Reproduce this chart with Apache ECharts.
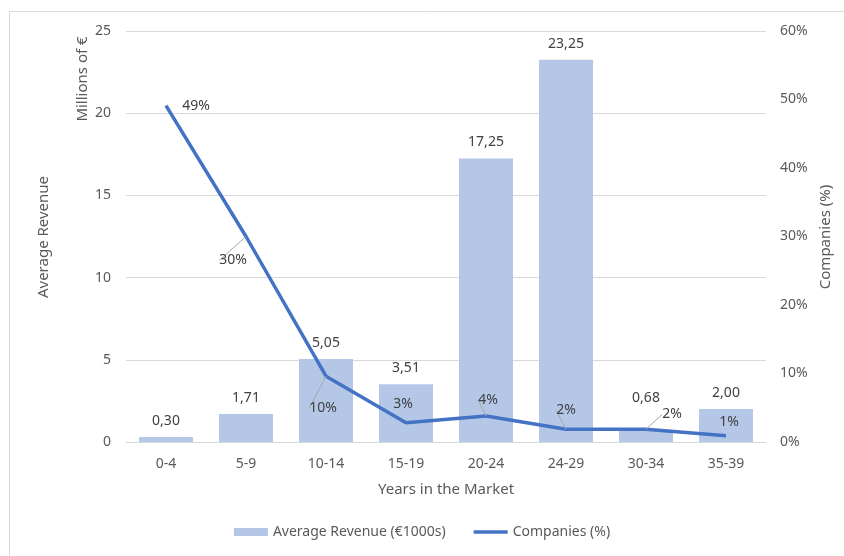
<!DOCTYPE html>
<html>
<head>
<meta charset="utf-8">
<script src="https://cdn.jsdelivr.net/npm/echarts@6/dist/echarts.min.js"></script>
<style>
  html, body { margin: 0; padding: 0; background: #fff; }
  #main { width: 844px; height: 556px; }
</style>
</head>
<body>
<div id="main"></div>
<script>
var categories = ['0-4', '5-9', '10-14', '15-19', '20-24', '24-29', '30-34', '35-39'];
var revenue = [0.30, 1.71, 5.05, 3.51, 17.25, 23.25, 0.68, 2.00];
var companies = [49.1, 30, 9.6, 2.8, 3.8, 1.85, 1.85, 0.9];
// where Excel moved each percentage label (relative to the point), and whether it drew a leader
var labelShift = [[30, 0], [-13, 24], [-3, 32], [-3, -19], [2, -16], [0, -19], [26, -15], [3, -14]];
var leader = [false, true, true, false, true, true, true, false];
// the 0,68 bar label was lifted up by hand
var barLabelLift = [0, 0, 0, 0, 0, 0, -17, 0];

var chart = echarts.init(document.getElementById('main'));
var font = 'Noto Sans';
var grey = '#595959';

var lineData = companies.map(function (v, i) {
    return { value: v, labelLine: { show: leader[i] } };
});

option = {
    animation: false,
    textStyle: { fontFamily: font },
    grid: { left: 126, right: 78, top: 31, bottom: 114 },
    legend: {
        bottom: 12,
        left: 'center',
        itemGap: 28,
        itemWidth: 34,
        itemHeight: 8,
        textStyle: { fontFamily: font, fontSize: 14, color: grey },
        data: [
            { name: 'Average Revenue (€1000s)', icon: 'rect' },
            { name: 'Companies (%)', icon: 'path://M0,0H34V3.5H0Z' }
        ]
    },
    graphic: [
        { type: 'line', shape: { x1: 9.5, y1: 11.5, x2: 844, y2: 11.5 }, style: { stroke: '#D9D9D9', lineWidth: 1 } },
        { type: 'line', shape: { x1: 9.5, y1: 11.5, x2: 9.5, y2: 556 }, style: { stroke: '#D9D9D9', lineWidth: 1 } },
        { type: 'text', x: 44, y: 237, rotation: Math.PI / 2, style: { text: 'Average Revenue', font: '15px "Noto Sans"', fill: grey, align: 'center', verticalAlign: 'middle' } },
        { type: 'text', x: 83, y: 79, rotation: Math.PI / 2, style: { text: 'Millions of €', font: '15px "Noto Sans"', fill: grey, align: 'center', verticalAlign: 'middle' } },
        { type: 'text', x: 826, y: 237, rotation: Math.PI / 2, style: { text: 'Companies (%)', font: '15px "Noto Sans"', fill: grey, align: 'center', verticalAlign: 'middle' } },
        { type: 'text', x: 446, y: 490, style: { text: 'Years in the Market', font: '15px "Noto Sans"', fill: grey, align: 'center', verticalAlign: 'middle' } }
    ],
    xAxis: {
        type: 'category',
        data: categories,
        axisLine: { lineStyle: { color: '#D9D9D9' } },
        axisTick: { show: false },
        axisLabel: { color: grey, fontSize: 14, margin: 15 }
    },
    yAxis: [
        {
            type: 'value',
            min: 0, max: 25, interval: 5,
            axisLine: { show: false },
            axisTick: { show: false },
            axisLabel: { color: grey, fontSize: 14, margin: 15 },
            splitLine: { lineStyle: { color: '#D9D9D9' } }
        },
        {
            type: 'value',
            min: 0, max: 60, interval: 10,
            axisLine: { show: false },
            axisTick: { show: false },
            axisLabel: { color: grey, fontSize: 14, margin: 14, formatter: '{value}%' },
            splitLine: { show: false }
        }
    ],
    series: [
        {
            name: 'Average Revenue (€1000s)',
            type: 'bar',
            data: revenue,
            barWidth: 54,
            itemStyle: { color: '#B4C7E7' },
            label: {
                show: true,
                position: 'top',
                distance: 9,
                color: '#404040',
                fontSize: 14,
                formatter: function (p) { return p.value.toFixed(2).replace('.', ','); }
            },
            labelLayout: function (p) {
                return { dy: barLabelLift[p.dataIndex] };
            }
        },
        {
            name: 'Companies (%)',
            type: 'line',
            yAxisIndex: 1,
            data: lineData,
            symbol: 'circle',
            symbolSize: 0,
            showSymbol: true,
            lineStyle: { color: '#4472C4', width: 3.5 },
            itemStyle: { color: '#4472C4' },
            label: {
                show: true,
                position: 'inside',
                color: '#404040',
                fontSize: 14,
                formatter: function (p) { return Math.round(p.value) + '%'; }
            },
            labelLine: { show: true, lineStyle: { color: '#A6A6A6', width: 1 } },
            labelLayout: function (p) {
                var s = labelShift[p.dataIndex];
                return { dx: s[0], dy: s[1] };
            },
            z: 3
        }
    ]
};

chart.setOption(option);
</script>
</body>
</html>
